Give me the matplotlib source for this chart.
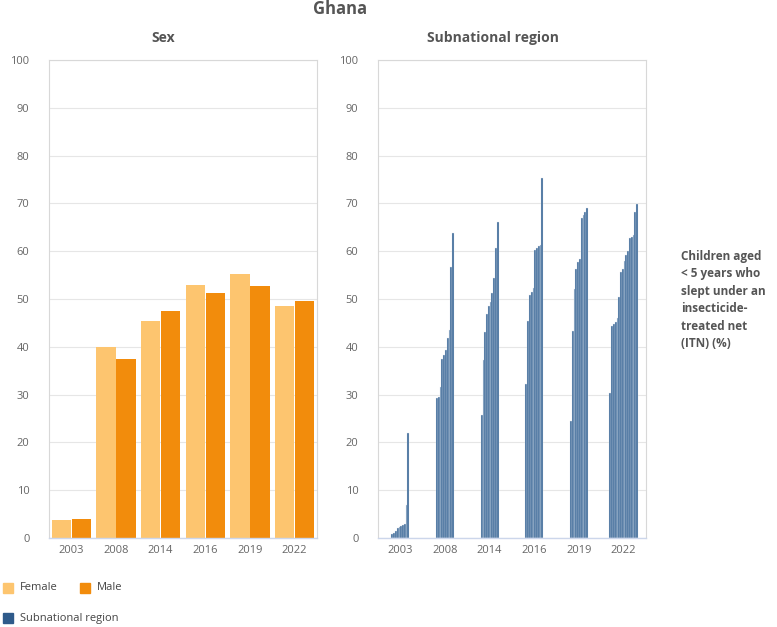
import numpy as np
import matplotlib
matplotlib.use("Agg")
import matplotlib.pyplot as plt
from matplotlib.patches import Rectangle

plt.rcParams['font.family'] = ['Open Sans', 'DejaVu Sans']

# -- Data ---------------------------------------------------------------
years = ['2003', '2008', '2014', '2016', '2019', '2022']
female = [3.7, 39.9, 45.5, 52.9, 55.3, 48.6]
male = [3.9, 37.5, 47.5, 51.3, 52.7, 49.5]

region_2003 = [0.9, 1.1, 1.5, 2.0, 2.3, 2.5, 2.7, 2.9, 6.9, 22.0]
region_2008 = [29.2, 29.4, 31.5, 37.5, 38.2, 39.3, 41.8, 43.6, 56.6, 63.8]
region_2014 = [25.8, 37.2, 43.0, 46.8, 48.5, 49.3, 51.2, 54.3, 60.6, 66.2]
region_2016 = [32.3, 45.4, 50.8, 51.5, 52.3, 60.2, 60.6, 61.0, 61.3, 75.4]
region_2019 = [24.5, 43.4, 52.0, 56.2, 57.8, 58.3, 67.0, 67.5, 68.3, 69.1]
region_2022 = [30.4, 44.3, 44.7, 45.1, 46.0, 50.4, 55.7, 56.3, 58.0, 59.2,
               60.0, 62.7, 63.0, 63.3, 68.2, 69.8]
regions = [region_2003, region_2008, region_2014, region_2016, region_2019, region_2022]

C_FEMALE = '#fdc56f'
C_MALE = '#f28c0c'
C_REGION = '#3e6a98'
TXT = '#666666'
GRID = '#e6e6e6'

fig = plt.figure(figsize=(7.77, 6.27), dpi=100)
axL = fig.add_axes([49 / 777, 1 - 538 / 627, 268 / 777, 478 / 627])
axR = fig.add_axes([378 / 777, 1 - 538 / 627, 268 / 777, 478 / 627])


def style(ax):
    ax.set_ylim(0, 100)
    ax.set_xlim(-0.5, len(years) - 0.5)
    ax.set_yticks(range(0, 101, 10))
    ax.set_xticks(range(len(years)))
    ax.set_xticklabels(years)
    ax.yaxis.grid(True, color=GRID, lw=0.8)
    ax.set_axisbelow(True)
    for s in ['top', 'left', 'right']:
        ax.spines[s].set_color('#d8d8d8')
        ax.spines[s].set_linewidth(0.8)
    ax.spines['bottom'].set_color('#ccd6eb')
    ax.spines['bottom'].set_linewidth(1.0)
    ax.tick_params(axis='y', length=0, pad=14, labelsize=8, labelcolor=TXT)
    ax.tick_params(axis='x', length=0, pad=5, labelsize=8, labelcolor=TXT)


x = np.arange(len(years))
w = 0.43
axL.bar(x - 0.225, female, width=w, color=C_FEMALE, zorder=2)
axL.bar(x + 0.225, male, width=w, color=C_MALE, zorder=2)
style(axL)

slot = 0.04
for i, vals in enumerate(regions):
    n = len(vals)
    pos = i + (np.arange(n) - (n - 1) / 2) * slot
    axR.bar(pos, vals, width=slot, color=C_REGION, edgecolor='#dfe7f0',
            linewidth=0.25, zorder=2)
style(axR)

fig.text(340 / 777, 1 - 9 / 627, 'Ghana', ha='center', va='center',
         fontsize=12, fontweight='bold', color='#555555')
fig.text(163 / 777, 1 - 38 / 627, 'Sex', ha='center', va='center',
         fontsize=10, fontweight='bold', color='#555555')
fig.text(493 / 777, 1 - 38 / 627, 'Subnational region', ha='center', va='center',
         fontsize=10, fontweight='bold', color='#555555')

fig.text(681 / 777, 1 - 300 / 627,
         'Children aged\n< 5 years who\nslept under an\ninsecticide-\ntreated net\n(ITN) (%)',
         ha='left', va='center', fontsize=8.5, fontweight='bold', color='#555555',
         linespacing=1.45)

# legend
def legend_item(px, py, color, label):
    fig.patches.append(Rectangle((px / 777, 1 - (py + 5) / 627), 10 / 777, 10 / 627,
                                 color=color, transform=fig.transFigure))
    fig.text((px + 17) / 777, 1 - py / 627, label, ha='left', va='center',
             fontsize=8, color='#444444')

legend_item(3, 588, C_FEMALE, 'Female')
legend_item(80, 588, C_MALE, 'Male')
legend_item(3, 618, '#2e5a8a', 'Subnational region')

fig.savefig('out.png', dpi=100)
